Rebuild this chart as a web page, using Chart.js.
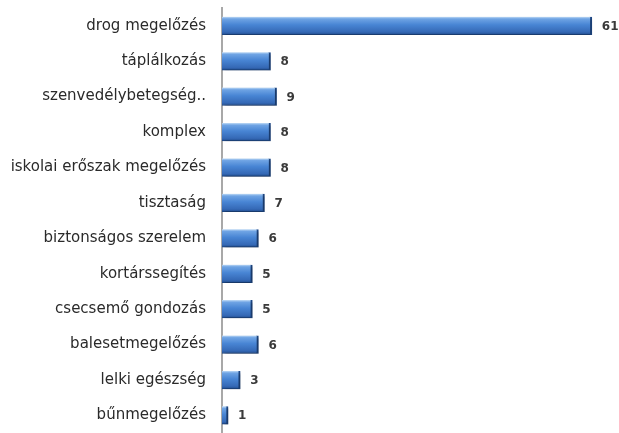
<!DOCTYPE html>
<html lang="hu">
<head>
  <meta charset="UTF-8">
  <title>Programok</title>
  <script src="https://cdn.jsdelivr.net/npm/chart.js"></script>
  <style>
    html, body { margin: 0; padding: 0; background: #fff; }
    #wrap { width: 619px; height: 433px; }
  </style>
</head>
<body>
  <div id="wrap"><canvas id="chart" width="619" height="433"></canvas></div>

  <script>
    const categories = [
      "drog megelőzés", "táplálkozás", "szenvedélybetegség..", "komplex",
      "iskolai erőszak megelőzés", "tisztaság", "biztonságos szerelem",
      "kortárssegítés", "csecsemő gondozás", "balesetmegelőzés",
      "lelki egészség", "bűnmegelőzés"
    ];
    const values = [61, 8, 9, 8, 8, 7, 6, 5, 5, 6, 3, 1];

    const BAR_H = 18;

    // fényes kék sáv, mint az eredeti 3D-s oszlopok
    function barFill(c) {
      const chart = c.chart;
      if (!chart.chartArea) return "#4682d2";
      const y = chart.scales.y.getPixelForValue(c.dataIndex);
      const g = chart.ctx.createLinearGradient(0, y - BAR_H / 2, 0, y + BAR_H / 2);
      g.addColorStop(0, "#c2dcf6");
      g.addColorStop(0.12, "#6fa4e4");
      g.addColorStop(0.45, "#4885d4");
      g.addColorStop(0.85, "#3569b6");
      g.addColorStop(1, "#214d8e");
      return g;
    }

    const shadow = {
      id: "shadow",
      beforeDatasetsDraw(chart) {
        const ctx = chart.ctx;
        ctx.save();
        ctx.shadowColor = "rgba(0,0,0,0.3)";
        ctx.shadowOffsetX = 2;
        ctx.shadowOffsetY = 2;
        ctx.shadowBlur = 3;
      },
      afterDatasetsDraw(chart) {
        chart.ctx.restore();
      }
    };

    const valueLabels = {
      id: "valueLabels",
      afterDatasetsDraw(chart) {
        const ctx = chart.ctx;
        const meta = chart.getDatasetMeta(0);
        ctx.save();
        ctx.font = "bold 12px 'DejaVu Sans', Verdana, sans-serif";
        ctx.fillStyle = "#3a3a3a";
        ctx.textBaseline = "middle";
        meta.data.forEach((bar, i) => {
          ctx.fillText(values[i], bar.x + 10, bar.y + 1);
        });
        ctx.restore();
      }
    };

    new Chart(document.getElementById("chart"), {
      type: "bar",
      data: {
        labels: categories,
        datasets: [{
          data: values,
          backgroundColor: barFill,
          borderColor: "#1f4a8a",
          borderWidth: { top: 0, bottom: 1, left: 0, right: 2 },
          borderSkipped: "left",
          barThickness: BAR_H
        }]
      },
      options: {
        indexAxis: "y",
        responsive: false,
        animation: false,
        layout: { padding: { top: 8, right: 9, bottom: 0, left: 0 }, autoPadding: false },
        plugins: {
          legend: { display: false },
          tooltip: { enabled: false }
        },
        scales: {
          x: {
            display: false,
            min: 0,
            max: 64
          },
          y: {
            afterFit(scale) {
              scale.width = 222;
              scale.paddingTop = 0;
              scale.paddingBottom = 0;
            },
            grid: { display: false, drawTicks: false },
            border: { display: true, color: "#a8a8a8", width: 2 },
            ticks: {
              padding: 16,
              color: "#2a2a2a",
              font: { family: "'DejaVu Sans', Verdana, sans-serif", size: 15 }
            }
          }
        }
      },
      plugins: [shadow, valueLabels]
    });
  </script>
</body>
</html>
